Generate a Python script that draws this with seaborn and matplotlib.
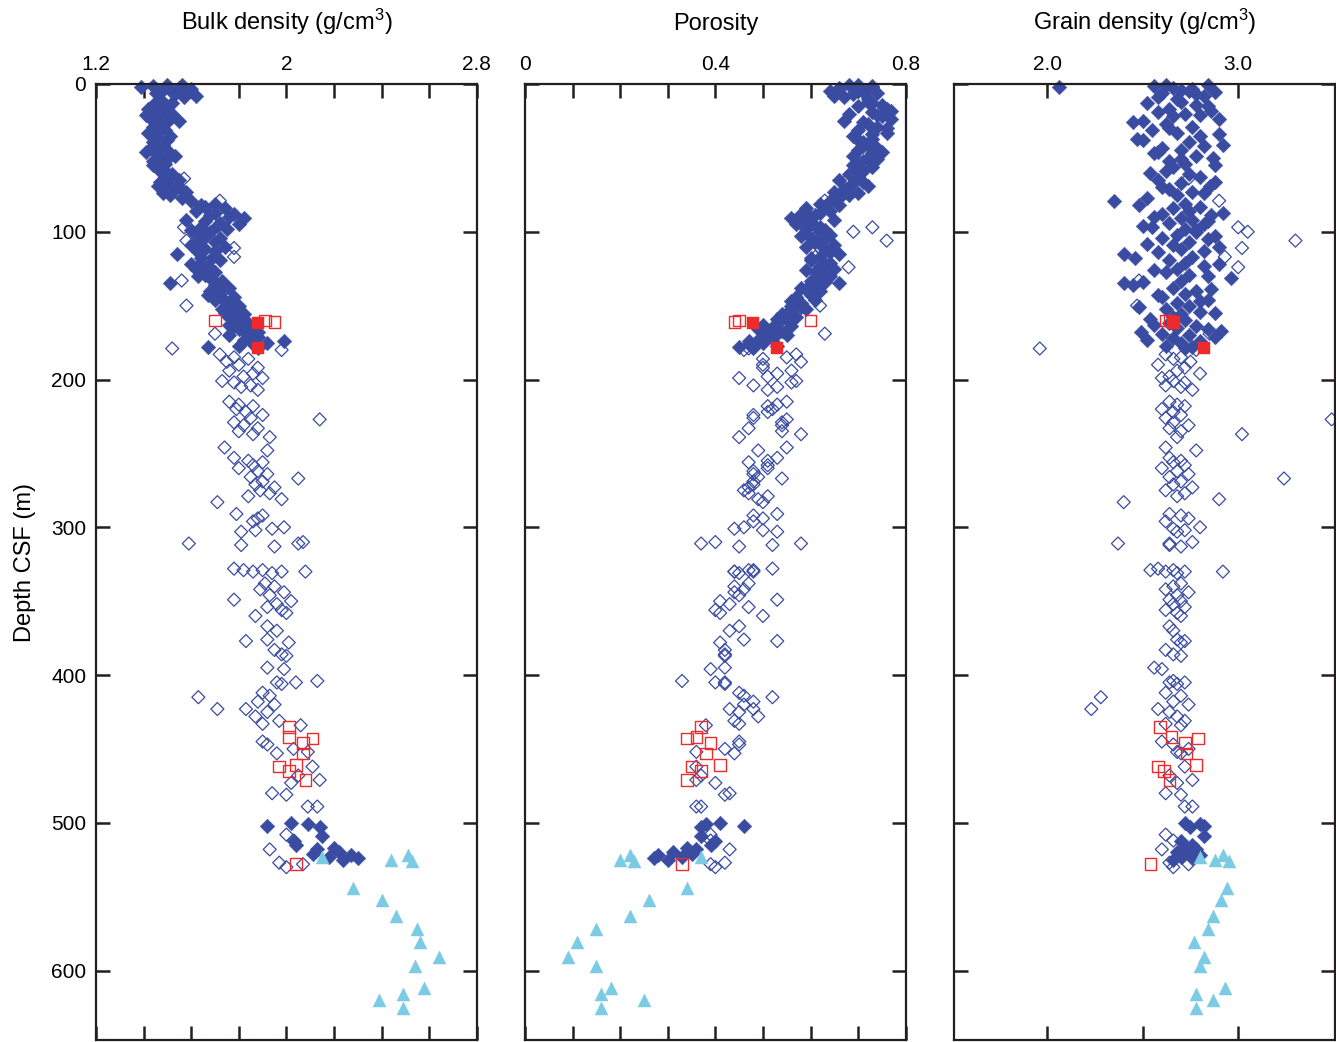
import matplotlib
matplotlib.use("Agg")
import matplotlib.pyplot as plt
from matplotlib.ticker import FixedLocator, FixedFormatter, NullFormatter
import pandas as pd
import seaborn as sns

# ---------------------------------------------------------------------------
# Moisture and density measurements (depth in m CSF)
# ---------------------------------------------------------------------------

# Upper sediment section, filled diamonds
fill_depth = [1, 2, 3, 4, 5, 6, 7, 8, 10,
              12, 14, 15, 17, 19, 20, 22, 24, 25, 27, 29, 31, 33, 35, 37, 39,
              41, 43, 45, 47, 49, 50, 52, 54, 56,
              59, 61, 63, 65, 67, 69, 71, 73, 75, 77, 79, 81,
              83, 84, 86, 88, 89, 91, 92, 94, 95, 97, 98,
              100, 102, 104, 105, 107, 109, 110, 112, 114, 115, 117, 119, 121, 123, 125, 127, 129,
              131, 133, 135, 136, 138, 140, 142, 144, 146, 148, 150, 152, 154, 156, 158,
              160, 162, 164, 165, 167, 168, 170, 172, 174, 175, 177, 178, 179,
              0.5, 1.5, 3.5, 5.5, 9,
              13, 18, 21, 26, 30, 34, 38, 42, 46, 51, 55,
              60, 66, 70, 74, 82, 87, 90, 93, 96, 99,
              103, 108, 113, 118, 122, 126, 130, 134, 139, 143, 147, 151, 155, 159,
              163, 166, 169, 171, 173, 176,
              500, 501, 502, 503, 509, 512, 515, 517, 518, 520, 521, 522, 523, 524, 525]
fill_bulk = [1.50, 1.39, 1.55, 1.48, 1.58, 1.45, 1.53, 1.62, 1.47,
             1.46, 1.44, 1.50, 1.42, 1.48, 1.52, 1.45, 1.43, 1.55, 1.47, 1.44, 1.49, 1.42, 1.51, 1.46, 1.44,
             1.48, 1.43, 1.50, 1.45, 1.53, 1.47, 1.44, 1.49, 1.46,
             1.47, 1.52, 1.49, 1.55, 1.50, 1.46, 1.53, 1.58, 1.51, 1.56, 1.60, 1.70,
             1.66, 1.74, 1.62, 1.78, 1.68, 1.82, 1.58, 1.72, 1.80, 1.64, 1.75,
             1.68, 1.62, 1.72, 1.65, 1.70, 1.60, 1.74, 1.66, 1.63, 1.54, 1.69, 1.72, 1.64, 1.67, 1.62, 1.70, 1.66,
             1.68, 1.73, 1.51, 1.70, 1.76, 1.68, 1.72, 1.78, 1.70, 1.75, 1.80, 1.73, 1.78, 1.82, 1.76,
             1.80, 1.84, 1.78, 1.86, 1.82, 1.88, 1.76, 1.85, 1.99, 1.92, 1.80, 1.67, 1.88,
             1.56, 1.44, 1.60, 1.52, 1.57,
             1.52, 1.45, 1.41, 1.50, 1.47, 1.45, 1.50, 1.46, 1.41, 1.50, 1.44,
             1.50, 1.47, 1.55, 1.48, 1.64, 1.70, 1.76, 1.66, 1.71, 1.60,
             1.66, 1.62, 1.70, 1.64, 1.60, 1.66, 1.63, 1.70, 1.72, 1.67, 1.74, 1.77, 1.74, 1.80,
             1.76, 1.80, 1.84, 1.88, 1.82, 1.86,
             2.02, 2.09, 1.92, 2.14, 2.15, 2.03, 2.04, 2.20, 2.13, 2.22, 2.11, 2.27, 2.18, 2.30, 2.24]
fill_por = [0.70, 0.73, 0.66, 0.72, 0.64, 0.74, 0.69, 0.65, 0.72,
            0.72, 0.75, 0.70, 0.76, 0.73, 0.68, 0.75, 0.77, 0.67, 0.72, 0.74, 0.70, 0.76, 0.69, 0.73, 0.71,
            0.72, 0.74, 0.70, 0.73, 0.69, 0.72, 0.71, 0.70, 0.73,
            0.71, 0.68, 0.70, 0.66, 0.69, 0.72, 0.67, 0.65, 0.68, 0.66, 0.64, 0.62,
            0.63, 0.59, 0.64, 0.58, 0.61, 0.56, 0.65, 0.60, 0.57, 0.62, 0.59,
            0.62, 0.64, 0.60, 0.63, 0.61, 0.65, 0.59, 0.63, 0.64, 0.66, 0.62, 0.60, 0.64, 0.62, 0.65, 0.61, 0.63,
            0.62, 0.60, 0.66, 0.61, 0.58, 0.62, 0.60, 0.57, 0.61, 0.58, 0.56, 0.59, 0.56, 0.54, 0.57,
            0.55, 0.53, 0.56, 0.52, 0.54, 0.51, 0.55, 0.52, 0.47, 0.50, 0.53, 0.45, 0.48,
            0.68, 0.73, 0.66, 0.71, 0.67,
            0.73, 0.77, 0.74, 0.71, 0.76, 0.73, 0.70, 0.71, 0.75, 0.74, 0.69,
            0.70, 0.71, 0.68, 0.70, 0.66, 0.62, 0.60, 0.58, 0.61, 0.63,
            0.58, 0.62, 0.64, 0.60, 0.63, 0.59, 0.64, 0.63, 0.59, 0.60, 0.56, 0.58, 0.55, 0.53,
            0.50, 0.49, 0.53, 0.50, 0.49, 0.47,
            0.41, 0.38, 0.46, 0.37, 0.37, 0.40, 0.39, 0.34, 0.36, 0.31, 0.35, 0.28, 0.33, 0.27, 0.30]
fill_grain = [2.62, 2.06, 2.66, 2.70, 2.74, 2.60, 2.78, 2.82, 2.68,
              2.70, 2.78, 2.84, 2.64, 2.58, 2.72, 2.66, 2.90, 2.50, 2.62, 2.76, 2.55, 2.68, 2.80, 2.47, 2.74,
              2.92, 2.60, 2.70, 2.56, 2.78, 2.87, 2.64, 2.72, 2.66,
              2.62, 2.74, 2.80, 2.58, 2.70, 2.85, 2.64, 2.76, 2.68, 2.52, 2.35, 2.72,
              2.80, 2.66, 2.74, 2.60, 2.86, 2.70, 2.76, 2.64, 2.82, 2.55, 2.72,
              2.78, 2.68, 2.60, 2.84, 2.74, 2.66, 2.90, 2.70, 2.58, 2.40, 2.76, 2.64, 2.72, 2.82, 2.68, 2.62, 2.74,
              2.96, 2.70, 2.40, 2.45, 2.66, 2.78, 2.72, 2.60, 2.84, 2.68, 2.74, 2.62, 2.80, 2.70, 2.66,
              2.72, 2.64, 2.78, 2.68, 2.91, 2.49, 2.74, 2.66, 2.80, 2.70, 2.62, 2.76, 2.72,
              2.84, 2.56, 2.76, 2.88, 2.58,
              2.52, 2.86, 2.80, 2.45, 2.64, 2.90, 2.50, 2.82, 2.58, 2.70, 2.88,
              2.54, 2.88, 2.60, 2.82, 2.48, 2.92, 2.56, 2.84, 2.50, 2.78,
              2.88, 2.52, 2.82, 2.46, 2.90, 2.56, 2.84, 2.50, 2.86, 2.58, 2.80, 2.48, 2.88, 2.54,
              2.56, 2.84, 2.60, 2.88, 2.52, 2.80,
              2.72, 2.80, 2.82, 2.75, 2.82, 2.70, 2.76, 2.72, 2.78, 2.68, 2.74, 2.80, 2.70, 2.76, 2.66]

# Lower section, open diamonds
open_depth = [64, 79, 97, 100, 106, 111, 117, 124, 133, 150, 169, 179, 180,
              183, 185, 186, 188, 190, 192, 194, 196, 198, 199, 201, 202, 204, 205, 207,
              215, 217, 218, 220, 222, 224, 226, 227, 229, 231, 233, 235, 237, 239, 246, 248,
              253, 255, 256, 258, 260, 262, 264, 266, 267, 269, 271, 273, 275, 277, 279, 281, 283,
              291, 292, 294, 296, 300, 301, 302, 303, 310, 311, 311, 312, 313,
              328, 329, 329, 330, 330, 330, 331, 338, 340, 342, 344, 346, 349, 350, 352, 354, 356, 358, 360,
              367, 370, 376, 377, 378, 383, 386, 387, 395, 396, 404, 405, 405, 406,
              412, 414, 415, 418, 420, 423, 423, 425, 428, 431, 433, 434,
              445, 447, 450, 452, 453, 462, 468, 471, 473, 480, 481, 489, 489,
              508, 512, 518, 527, 528, 530]
open_bulk = [1.57, 1.72, 1.57, 1.65, 1.58, 1.78, 1.78, 1.66, 1.56, 1.58, 1.70, 1.52, 1.98,
             1.72, 1.78, 1.84, 1.75, 1.80, 1.88, 1.76, 1.86, 1.82, 1.90, 1.73, 1.78, 1.85, 1.81, 1.88,
             1.76, 1.80, 1.86, 1.79, 1.83, 1.90, 1.85, 2.14, 1.78, 1.82, 1.88, 1.80, 1.86, 1.93, 1.74, 1.92,
             1.78, 1.84, 1.90, 1.86, 1.80, 1.88, 1.92, 1.85, 2.05, 1.90, 1.87, 1.95, 1.89, 1.93, 1.84, 1.98, 1.71,
             1.79, 1.90, 1.88, 1.86, 1.99, 1.94, 1.87, 1.81, 2.07, 1.59, 2.05, 1.81, 1.95,
             1.78, 1.82, 1.90, 1.86, 1.98, 2.08, 1.94, 1.91, 1.95, 1.89, 1.99, 1.93, 1.78, 2.02, 1.96, 1.92, 1.98, 2.00, 1.87,
             1.92, 1.96, 1.92, 1.83, 2.01, 1.95, 1.98, 2.00, 1.92, 1.99, 2.13, 1.96, 2.04, 1.98,
             1.90, 1.93, 1.63, 1.88, 1.95, 1.71, 1.83, 1.92, 1.87, 1.97, 1.90, 2.06,
             1.90, 1.92, 2.03, 2.09, 1.96, 2.11, 2.05, 2.14, 2.02, 1.94, 2.00, 2.09, 2.13,
             2.00, 2.03, 1.93, 1.97, 2.07, 2.00]
open_por = [0.68, 0.63, 0.73, 0.69, 0.76, 0.62, 0.61, 0.68, 0.63, 0.62, 0.63, 0.47, 0.46,
            0.57, 0.55, 0.50, 0.58, 0.50, 0.50, 0.56, 0.53, 0.51, 0.45, 0.57, 0.56, 0.48, 0.53, 0.51,
            0.55, 0.53, 0.51, 0.52, 0.51, 0.48, 0.48, 0.55, 0.54, 0.54, 0.47, 0.54, 0.58, 0.45, 0.55, 0.49,
            0.53, 0.51, 0.47, 0.51, 0.51, 0.48, 0.48, 0.49, 0.54, 0.48, 0.48, 0.47, 0.46, 0.47, 0.51, 0.49, 0.50,
            0.53, 0.48, 0.50, 0.48, 0.46, 0.44, 0.50, 0.53, 0.40, 0.58, 0.37, 0.52, 0.45,
            0.52, 0.48, 0.47, 0.48, 0.44, 0.44, 0.45, 0.47, 0.44, 0.46, 0.44, 0.45, 0.53, 0.41, 0.43, 0.47, 0.40, 0.41, 0.50,
            0.45, 0.43, 0.46, 0.53, 0.41, 0.42, 0.42, 0.42, 0.42, 0.39, 0.33, 0.42, 0.40, 0.42,
            0.45, 0.46, 0.52, 0.48, 0.46, 0.43, 0.48, 0.45, 0.49, 0.44, 0.45, 0.38,
            0.45, 0.45, 0.42, 0.36, 0.44, 0.36, 0.37, 0.36, 0.40, 0.43, 0.42, 0.37, 0.36,
            0.39, 0.39, 0.43, 0.42, 0.39, 0.40]
open_grain = [2.74, 2.90, 3.00, 3.05, 3.30, 3.02, 2.93, 3.00, 2.48, 2.47, 2.85, 1.96, 2.78,
              2.62, 2.70, 2.66, 2.75, 2.58, 2.72, 2.68, 2.80, 2.64, 2.60, 2.66, 2.72, 2.62, 2.70, 2.76,
              2.64, 2.68, 2.72, 2.60, 2.66, 2.70, 2.62, 3.49, 2.66, 2.74, 2.64, 2.70, 3.02, 2.68, 2.62, 2.78,
              2.64, 2.70, 2.66, 2.72, 2.60, 2.68, 2.74, 2.64, 3.24, 2.70, 2.66, 2.76, 2.62, 2.72, 2.68, 2.90, 2.40,
              2.64, 2.70, 2.74, 2.62, 2.80, 2.66, 2.72, 2.68, 2.76, 2.37, 2.64, 2.64, 2.70,
              2.58, 2.54, 2.66, 2.62, 2.72, 2.92, 2.68, 2.70, 2.66, 2.62, 2.74, 2.68, 2.64, 2.70, 2.66, 2.72, 2.62, 2.68, 2.70,
              2.64, 2.66, 2.68, 2.72, 2.70, 2.62, 2.66, 2.70, 2.56, 2.60, 2.66, 2.64, 2.72, 2.68,
              2.62, 2.70, 2.28, 2.66, 2.74, 2.23, 2.58, 2.64, 2.68, 2.72, 2.62, 2.70,
              2.60, 2.66, 2.74, 2.68, 2.70, 2.72, 2.64, 2.76, 2.68, 2.62, 2.70, 2.72, 2.76,
              2.62, 2.66, 2.60, 2.64, 2.74, 2.66]

# Red squares: filled and open
redfill_depth = [162, 179]
redfill_bulk = [1.88, 1.88]
redfill_por = [0.48, 0.53]
redfill_grain = [2.66, 2.82]

redopen_depth = [160, 160, 161, 435, 442, 443, 446, 453, 461, 462, 465, 471, 528]
redopen_bulk = [1.70, 1.91, 1.95, 2.01, 2.01, 2.11, 2.07, 2.07, 2.04, 1.97, 2.01, 2.08, 2.04]
redopen_por = [0.60, 0.45, 0.44, 0.37, 0.36, 0.34, 0.39, 0.38, 0.41, 0.35, 0.37, 0.34, 0.33]
redopen_grain = [2.64, 2.62, 2.66, 2.59, 2.65, 2.79, 2.72, 2.73, 2.78, 2.58, 2.61, 2.64, 2.54]

# Basement, triangles
tri_depth = [523, 525, 522, 526, 544, 552, 563, 572, 581, 591, 597, 612, 616, 620, 625]
tri_bulk = [2.15, 2.44, 2.51, 2.53, 2.28, 2.40, 2.46, 2.55, 2.56, 2.64, 2.54, 2.58, 2.49, 2.39, 2.49]
tri_por = [0.37, 0.20, 0.22, 0.23, 0.34, 0.26, 0.22, 0.15, 0.11, 0.09, 0.15, 0.18, 0.16, 0.25, 0.16]
tri_grain = [2.80, 2.88, 2.92, 2.95, 2.94, 2.91, 2.87, 2.84, 2.77, 2.82, 2.80, 2.93, 2.78, 2.87, 2.78]

# ---------------------------------------------------------------------------
def frame(depth, bulk, por, grain, kind):
    return pd.DataFrame({"depth": depth, "bulk": bulk, "por": por,
                         "grain": grain, "kind": kind})

data = pd.concat([
    frame(open_depth, open_bulk, open_por, open_grain, "open"),
    frame(fill_depth, fill_bulk, fill_por, fill_grain, "fill"),
    frame(tri_depth, tri_bulk, tri_por, tri_grain, "tri"),
    frame(redopen_depth, redopen_bulk, redopen_por, redopen_grain, "redopen"),
    frame(redfill_depth, redfill_bulk, redfill_por, redfill_grain, "redfill"),
], ignore_index=True)

BLUE = "#3a4ca1"
CYAN = "#7ccbe4"
RED = "#ee2a2a"
INK = "#231f20"

sns.set_theme(style="white")
plt.rcParams["font.family"] = ["Liberation Sans", "DejaVu Sans"]
plt.rcParams["mathtext.default"] = "regular"

styles = {
    "open": dict(marker="D", s=44, facecolors="none", edgecolor=BLUE, linewidth=0.9),
    "fill": dict(marker="D", s=56, color=BLUE, edgecolor=BLUE, linewidth=0.3),
    "tri": dict(marker="^", s=88, color=CYAN, edgecolor=CYAN, linewidth=0.3),
    "redopen": dict(marker="s", s=70, facecolors="none", edgecolor=RED, linewidth=1.0),
    "redfill": dict(marker="s", s=80, color=RED, edgecolor=RED, linewidth=0.3),
}

fig = plt.figure(figsize=(13.36, 10.42), dpi=100)
bottom, height = 0.0019, 0.9175
panels = [
    dict(col="bulk", left=0.0719, title="Bulk density (g/cm$^3$)", xlim=(1.2, 2.8),
         major=[1.2, 2.0, 2.8], labels=["1.2", "2", "2.8"],
         minor=[1.4, 1.6, 1.8, 2.2, 2.4, 2.6], minor_top=True),
    dict(col="por", left=0.393, title="Porosity", xlim=(0.0, 0.8),
         major=[0.0, 0.4, 0.8], labels=["0", "0.4", "0.8"],
         minor=[0.1, 0.2, 0.3, 0.5, 0.6, 0.7], minor_top=True),
    dict(col="grain", left=0.714, title="Grain density (g/cm$^3$)", xlim=(1.51, 3.505),
         major=[2.0, 3.0], labels=["2.0", "3.0"],
         minor=[2.5], minor_top=False),
]
width = 0.2849

for i, p in enumerate(panels):
    ax = fig.add_axes([p["left"], bottom, width, height])
    for kind in ["open", "fill", "tri", "redopen", "redfill"]:
        sub = data[data["kind"] == kind]
        sns.scatterplot(data=sub, x=p["col"], y="depth", ax=ax, legend=False,
                        zorder=3, clip_on=False, **styles[kind])
    ax.set_xlim(*p["xlim"])
    ax.set_ylim(647, 0)

    ax.xaxis.set_major_locator(FixedLocator(p["major"]))
    ax.xaxis.set_major_formatter(FixedFormatter(p["labels"]))
    ax.xaxis.set_minor_locator(FixedLocator(p["minor"]))
    ax.xaxis.set_minor_formatter(NullFormatter())
    ax.tick_params(axis="x", which="major", top=True, bottom=True, labeltop=True,
                   labelbottom=False, direction="in", length=10, width=1.8,
                   color=INK, labelsize=15, pad=7, labelcolor="black")
    ax.tick_params(axis="x", which="minor", top=p["minor_top"], bottom=True,
                   direction="in", length=10, width=1.8, color=INK)

    ax.yaxis.set_major_locator(FixedLocator([0, 100, 200, 300, 400, 500, 600]))
    ax.tick_params(axis="y", which="major", left=True, right=True,
                   labelleft=(i == 0), direction="in", length=10, width=1.8,
                   color=INK, labelsize=15, pad=7, labelcolor="black")
    for sp in ax.spines.values():
        sp.set_linewidth(1.6)
        sp.set_color(INK)
        sp.set_zorder(5)

    ax.set_title(p["title"], fontsize=17, pad=18, color="black")
    ax.set_xlabel("")
    if i == 0:
        ax.set_ylabel("Depth CSF (m)", fontsize=17, color="black")
        ax.yaxis.set_label_coords(-0.157, 0.5)
    else:
        ax.set_ylabel("")

fig.savefig("out.png", dpi=100)
